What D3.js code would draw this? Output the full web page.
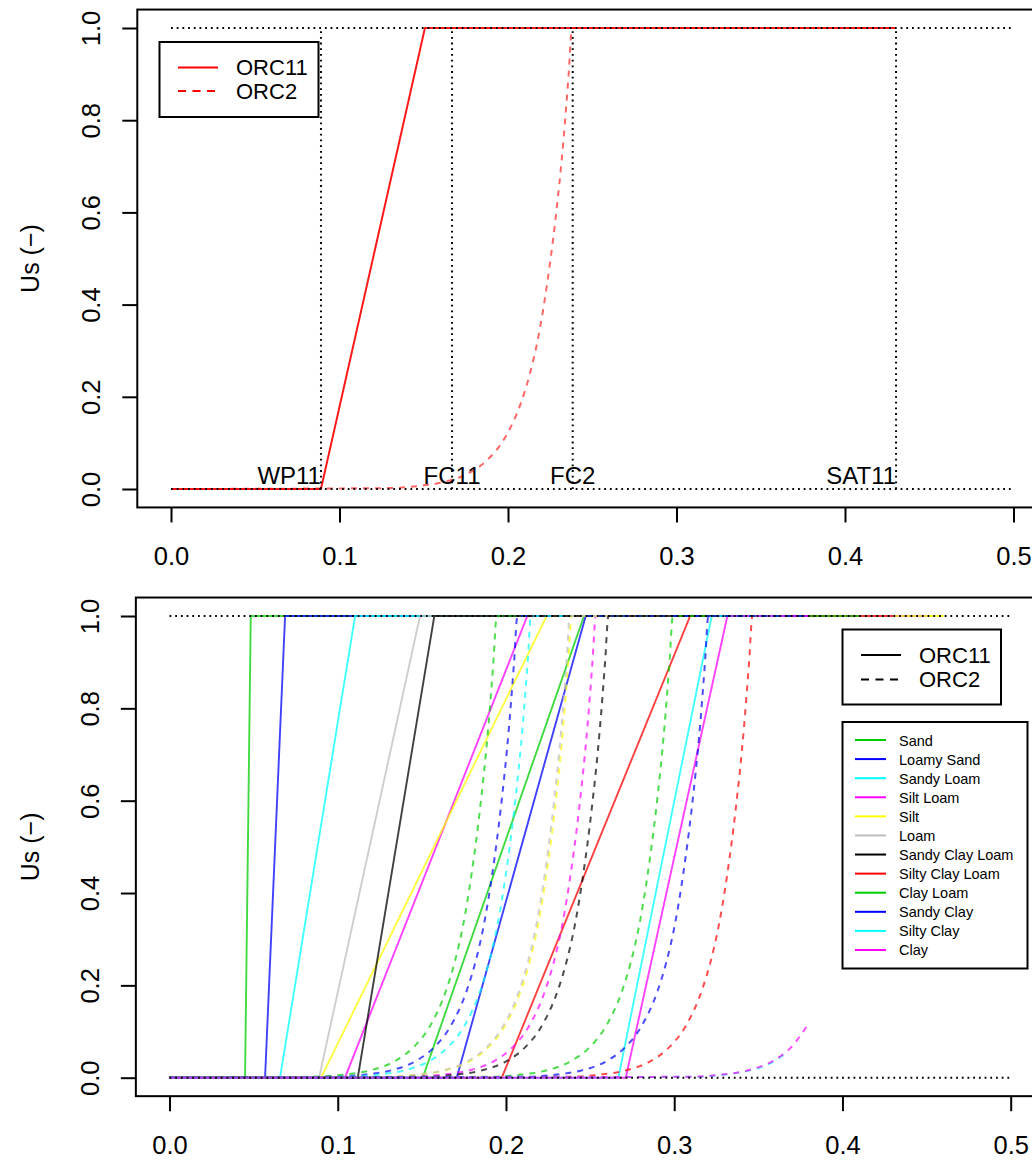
<!DOCTYPE html>
<html><head><meta charset="utf-8">
<script src="https://cdn.jsdelivr.net/npm/d3@7"></script>
<style>
body{margin:0;background:#fff}
svg{display:block}
text{font-family:"Liberation Sans",Arial,Helvetica,sans-serif;fill:#000}
</style>
</head><body>
<svg id="chart" width="1032" height="1160"></svg>
<script>
// ---------------- data ----------------
const xTickValues = [0, 0.1, 0.2, 0.3, 0.4, 0.5];
const yTickValues = [0, 0.2, 0.4, 0.6, 0.8, 1.0];
const yLabel = "Us (\u2212)";

// top panel (single texture)
const topOrc11 = [[0,0],[0.089,0],[0.1507,1],[0.430,1]];
const topOrc2 = [[0,0],[0.128,0.002],[0.148,0.007],[0.163,0.016],[0.178,0.037],[0.188,0.064],[0.198,0.11],
  [0.208,0.19],[0.213,0.25],[0.218,0.33],[0.223,0.44],[0.228,0.58],[0.233,0.76],[0.236,0.90],[0.238,1],[0.430,1]];
const topMarkerNames = ["WP11","FC11","FC2","SAT11"];
const topMarkerX = [0.089, 0.1668, 0.2384, 0.4303];
const topLegendNames = ["ORC11","ORC2"];

// bottom panel (12 textures)
const textures = ["Sand","Loamy Sand","Sandy Loam","Silt Loam","Silt","Loam","Sandy Clay Loam",
  "Silty Clay Loam","Clay Loam","Sandy Clay","Silty Clay","Clay"];
const textureColors = ["#00CD00","#0000FF","#00FFFF","#FF00FF","#FFFF00","#BEBEBE","#000000",
  "#FF0000","#00CD00","#0000FF","#00FFFF","#FF00FF"];
const wilt11 = [0.0449,0.0568,0.0657,0.1043,0.0901,0.0889,0.1119,0.1975,0.1505,0.1707,0.2668,0.2712];
const full11 = [0.0483,0.0687,0.1103,0.2127,0.2242,0.1489,0.1574,0.3095,0.2464,0.2474,0.3223,0.3316];
const saturation = [0.43,0.41,0.41,0.45,0.46,0.43,0.39,0.43,0.41,0.38,0.365,0.38];

const orc2Sand = [[0,0],[0.0845,0.002],[0.1045,0.007],[0.1195,0.016],[0.1345,0.037],[0.1445,0.064],[0.1545,0.11],[0.1645,0.19],[0.1695,0.25],[0.1745,0.33],[0.1795,0.44],[0.1845,0.58],[0.1895,0.76],[0.1925,0.90],[0.1945,1],[0.43,1]];
const orc2LoamySand = [[0,0],[0.0968,0.002],[0.1168,0.007],[0.1318,0.016],[0.1468,0.037],[0.1568,0.064],[0.1668,0.11],[0.1768,0.19],[0.1818,0.25],[0.1868,0.33],[0.1918,0.44],[0.1968,0.58],[0.2018,0.76],[0.2048,0.90],[0.2068,1],[0.41,1]];
const orc2SandyLoam = [[0,0],[0.1049,0.002],[0.1249,0.007],[0.1399,0.016],[0.1549,0.037],[0.1649,0.064],[0.1749,0.11],[0.1849,0.19],[0.1899,0.25],[0.1949,0.33],[0.1999,0.44],[0.2049,0.58],[0.2099,0.76],[0.2129,0.90],[0.2149,1],[0.41,1]];
const orc2SiltLoam = [[0,0],[0.1434,0.002],[0.1634,0.007],[0.1784,0.016],[0.1934,0.037],[0.2034,0.064],[0.2134,0.11],[0.2234,0.19],[0.2284,0.25],[0.2334,0.33],[0.2384,0.44],[0.2434,0.58],[0.2484,0.76],[0.2514,0.90],[0.2534,1],[0.45,1]];
const orc2Silt = [[0,0],[0.1290,0.002],[0.1490,0.007],[0.1640,0.016],[0.1790,0.037],[0.1890,0.064],[0.1990,0.11],[0.2090,0.19],[0.2140,0.25],[0.2190,0.33],[0.2240,0.44],[0.2290,0.58],[0.2340,0.76],[0.2370,0.90],[0.2390,1],[0.46,1]];
const orc2Loam = [[0,0],[0.1280,0.002],[0.1480,0.007],[0.1630,0.016],[0.1780,0.037],[0.1880,0.064],[0.1980,0.11],[0.2080,0.19],[0.2130,0.25],[0.2180,0.33],[0.2230,0.44],[0.2280,0.58],[0.2330,0.76],[0.2360,0.90],[0.2380,1],[0.43,1]];
const orc2SandyClayLoam = [[0,0],[0.1509,0.002],[0.1709,0.007],[0.1859,0.016],[0.2009,0.037],[0.2109,0.064],[0.2209,0.11],[0.2309,0.19],[0.2359,0.25],[0.2409,0.33],[0.2459,0.44],[0.2509,0.58],[0.2559,0.76],[0.2589,0.90],[0.2609,1],[0.39,1]];
const orc2SiltyClayLoam = [[0,0],[0.2365,0.002],[0.2565,0.007],[0.2715,0.016],[0.2865,0.037],[0.2965,0.064],[0.3065,0.11],[0.3165,0.19],[0.3215,0.25],[0.3265,0.33],[0.3315,0.44],[0.3365,0.58],[0.3415,0.76],[0.3445,0.90],[0.3465,1],[0.43,1]];
const orc2ClayLoam = [[0,0],[0.1892,0.002],[0.2092,0.007],[0.2242,0.016],[0.2392,0.037],[0.2492,0.064],[0.2592,0.11],[0.2692,0.19],[0.2742,0.25],[0.2792,0.33],[0.2842,0.44],[0.2892,0.58],[0.2942,0.76],[0.2972,0.90],[0.2992,1],[0.41,1]];
const orc2SandyClay = [[0,0],[0.2103,0.002],[0.2303,0.007],[0.2453,0.016],[0.2603,0.037],[0.2703,0.064],[0.2803,0.11],[0.2903,0.19],[0.2953,0.25],[0.3003,0.33],[0.3053,0.44],[0.3103,0.58],[0.3153,0.76],[0.3183,0.90],[0.3203,1],[0.38,1]];
const orc2SiltyClay = [[0,0],[0.310,0.002],[0.330,0.007],[0.345,0.016],[0.360,0.037],[0.365,0.05]];
const orc2Clay = [[0,0],[0.309,0.002],[0.329,0.007],[0.344,0.016],[0.359,0.037],[0.369,0.064],[0.380,0.118]];
const orc2Curves = [orc2Sand,orc2LoamySand,orc2SandyLoam,orc2SiltLoam,orc2Silt,orc2Loam,orc2SandyClayLoam,
  orc2SiltyClayLoam,orc2ClayLoam,orc2SandyClay,orc2SiltyClay,orc2Clay];

// ---------------- drawing ----------------
const svg = d3.select("#chart");
const FONT_TICK = 25.5;

function panel(cfg){
  const g = svg.append("g");
  const x = d3.scaleLinear().domain([0,0.5]).range([cfg.x0, cfg.x5]);
  const y = d3.scaleLinear().domain([0,1]).range([cfg.y0, cfg.y1]);
  const ext = (x.range()[1]-x.range()[0])*0.04;
  const eyt = (y.range()[0]-y.range()[1])*0.04;
  const left = x(0)-ext, right = x(0.5)+ext, top = y(1)-eyt, bottom = y(0)+eyt;
  const xa = g.append("g").attr("transform",`translate(0,${bottom})`)
    .call(d3.axisBottom(x).tickValues(xTickValues).tickSize(15).tickFormat(d3.format(".1f")));
  xa.select(".domain").remove();
  xa.selectAll(".tick line").attr("stroke","#000").attr("stroke-width",2);
  xa.selectAll(".tick text").attr("y",58).attr("dy",0).attr("font-size",FONT_TICK)
    .style("font-family","'Liberation Sans',Arial,sans-serif").attr("fill","#000");
  const ya = g.append("g").attr("transform",`translate(${left},0)`)
    .call(d3.axisLeft(y).tickValues(yTickValues).tickSize(15).tickFormat(d3.format(".1f")));
  ya.select(".domain").remove();
  ya.selectAll(".tick line").attr("stroke","#000").attr("stroke-width",2);
  ya.selectAll(".tick text").attr("x",0).attr("y",0).attr("dy",0).attr("text-anchor","middle")
    .attr("transform","translate(-37,0) rotate(-90)").attr("font-size",FONT_TICK)
    .style("font-family","'Liberation Sans',Arial,sans-serif").attr("fill","#000");
  g.append("text").attr("transform",`translate(39,${(y(0)+y(1))/2}) rotate(-90)`)
    .attr("text-anchor","middle").attr("font-size",25).text(yLabel);
  const clip = "clip"+cfg.id;
  svg.append("clipPath").attr("id",clip).append("rect")
    .attr("x",left).attr("y",top).attr("width",right-left).attr("height",bottom-top);
  const plot = g.append("g").attr("clip-path",`url(#${clip})`);
  return {g, plot, x, y, left, right, top, bottom};
}

function frame(p){
  p.g.append("rect").attr("x",p.left).attr("y",p.top).attr("width",p.right-p.left).attr("height",p.bottom-p.top)
    .attr("fill","none").attr("stroke","#000").attr("stroke-width",2);
}
function dotted(p, x1,y1,x2,y2){
  p.plot.append("line").attr("x1",p.x(x1)).attr("y1",p.y(y1)).attr("x2",p.x(x2)).attr("y2",p.y(y2))
    .attr("stroke","#000").attr("stroke-width",2).attr("stroke-dasharray","1.8,3.9");
}

// ---- top panel
const P1 = panel({id:1, x0:171, x5:1013.5, y0:489, y1:28});
const lineLin = d3.line().x(d=>P1.x(d[0])).y(d=>P1.y(d[1]));
const lineCurve1 = d3.line().x(d=>P1.x(d[0])).y(d=>P1.y(d[1])).curve(d3.curveMonotoneX);
P1.plot.append("path").datum(topOrc2).attr("d",lineCurve1).attr("fill","none")
  .attr("stroke","#FF0000").attr("stroke-opacity",0.6).attr("stroke-width",2).attr("stroke-dasharray","6,6");
P1.plot.append("path").datum(topOrc11).attr("d",lineLin).attr("fill","none")
  .attr("stroke","#FF0000").attr("stroke-opacity",0.9).attr("stroke-width",2);
dotted(P1,0,0,0.5,0); dotted(P1,0,1,0.5,1);
topMarkerX.forEach(v=>dotted(P1,v,0,v,1));
P1.g.selectAll("text.mk").data(topMarkerNames).join("text").attr("class","mk")
  .attr("x",(d,i)=>P1.x(topMarkerX[i])).attr("y",P1.y(0)-5)
  .attr("text-anchor",(d,i)=>(i===0||i===3)?"end":"middle").attr("font-size",24).text(d=>d);
frame(P1);
{
  const lg = P1.g.append("g");
  lg.append("rect").attr("x",159.5).attr("y",42).attr("width",159).attr("height",75)
    .attr("fill","#fff").attr("stroke","#000").attr("stroke-width",2);
  topLegendNames.forEach((n,i)=>{
    const yy = 67.5 + i*23.5;
    lg.append("line").attr("x1",178).attr("x2",218).attr("y1",yy).attr("y2",yy)
      .attr("stroke","#FF0000").attr("stroke-width",2).attr("stroke-dasharray",i?"8,6.5":null);
    lg.append("text").attr("x",236).attr("y",yy+7.5).attr("font-size",22).text(n);
  });
}

// ---- bottom panel
const P2 = panel({id:2, x0:169.5, x5:1010.7, y0:1077.7, y1:616});
const lin2 = d3.line().x(d=>P2.x(d[0])).y(d=>P2.y(d[1]));
const curve2 = d3.line().x(d=>P2.x(d[0])).y(d=>P2.y(d[1])).curve(d3.curveMonotoneX);
textures.forEach((t,i)=>{
  const solid = [[0,0],[wilt11[i],0],[full11[i],1],[saturation[i],1]];
  P2.plot.append("path").datum(solid).attr("d",lin2).attr("fill","none")
    .attr("stroke",textureColors[i]).attr("stroke-opacity",0.75).attr("stroke-width",1.9);
});
textures.forEach((t,i)=>{
  P2.plot.append("path").datum(orc2Curves[i]).attr("d",curve2).attr("fill","none")
    .attr("stroke",textureColors[i]).attr("stroke-opacity",0.7).attr("stroke-width",2)
    .attr("stroke-dasharray","6,6");
});
dotted(P2,0,0,0.5,0); dotted(P2,0,1,0.5,1);
frame(P2);
{
  const lg = P2.g.append("g");
  lg.append("rect").attr("x",842.5).attr("y",629.5).attr("width",158.5).attr("height",75)
    .attr("fill","#fff").attr("stroke","#000").attr("stroke-width",2);
  topLegendNames.forEach((n,i)=>{
    const yy = 655 + i*24.5;
    lg.append("line").attr("x1",861).attr("x2",901).attr("y1",yy).attr("y2",yy)
      .attr("stroke","#000").attr("stroke-width",2).attr("stroke-dasharray",i?"8,6.5":null);
    lg.append("text").attr("x",919).attr("y",yy+7.5).attr("font-size",22).text(n);
  });
  const lg2 = P2.g.append("g");
  lg2.append("rect").attr("x",842.5).attr("y",722).attr("width",185).attr("height",246.5)
    .attr("fill","#fff").attr("stroke","#000").attr("stroke-width",2);
  textures.forEach((n,i)=>{
    const yy = 740 + i*19.09;
    lg2.append("line").attr("x1",855).attr("x2",886).attr("y1",yy).attr("y2",yy)
      .attr("stroke",textureColors[i]).attr("stroke-width",2);
    lg2.append("text").attr("x",899).attr("y",yy+5.5).attr("font-size",14.5).text(n);
  });
}
</script>
</body></html>
